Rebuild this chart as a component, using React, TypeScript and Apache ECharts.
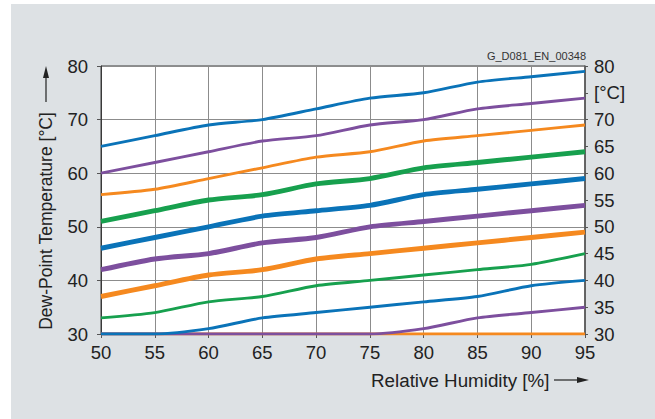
import React, { useEffect, useRef } from "react";
import * as echarts from "echarts";

const humidity = [50, 55, 60, 65, 70, 75, 80, 85, 90, 95];
const leftTicks = ["30", "40", "50", "60", "70", "80"];
const rightUnit = "[°C]";

// dew point curves, top to bottom
const blueTop = [65, 67, 69, 70, 72, 74, 75, 77, 78, 79];
const purpleTop = [60, 62, 64, 66, 67, 69, 70, 72, 73, 74];
const orangeTop = [56, 57, 59, 61, 63, 64, 66, 67, 68, 69];
const greenThick = [51, 53, 55, 56, 58, 59, 61, 62, 63, 64];
const blueThick = [46, 48, 50, 52, 53, 54, 56, 57, 58, 59];
const purpleThick = [42, 44, 45, 47, 48, 50, 51, 52, 53, 54];
const orangeThick = [37, 39, 41, 42, 44, 45, 46, 47, 48, 49];
const greenThin = [33, 34, 36, 37, 39, 40, 41, 42, 43, 45];
const blueLow = [30, 30, 31, 33, 34, 35, 36, 37, 39, 40];
const purpleLow = [30, 30, 30, 30, 30, 30, 31, 33, 34, 35];
const orangeLow = [30, 30, 30, 30, 30, 30, 30, 30, 30, 30];

const BLUE = "#0a73b8";
const PURPLE = "#7d4f9e";
const ORANGE = "#f5891f";
const GREEN = "#17a04e";
const FONT = "Liberation Sans, Arial, Helvetica, sans-serif";

export default function App() {
  const ref = useRef<HTMLDivElement>(null);
  useEffect(() => {
    if (!ref.current) return;
    const chart = echarts.init(ref.current, undefined, { renderer: "svg" });
    const mk = (vals: number[], color: string, width: number) => ({
      type: "line",
      data: humidity.map((h, i) => [h, vals[i]]),
      showSymbol: false,
      symbol: "none",
      smooth: 0.25,
      lineStyle: { color, width },
      itemStyle: { color },
      clip: true,
      z: 3,
    });
    const THIN = 2.9;
    const THICK = 4.9;
    chart.setOption({
      animation: false,
      backgroundColor: "#ffffff",
      textStyle: { fontFamily: FONT },
      graphic: [
        {
          type: "rect",
          z: -10,
          silent: true,
          shape: { x: 11, y: 4, width: 660, height: 430 },
          style: { fill: "#dde1e4" },
        },
        {
          type: "text",
          x: 586,
          y: 56,
          style: {
            text: "G_D081_EN_00348",
            fontSize: 11,
            fontFamily: FONT,
            fill: "#333",
            align: "right",
            verticalAlign: "middle",
          },
        },
        {
          type: "text",
          x: 46,
          y: 221,
          rotation: Math.PI / 2,
          style: {
            text: "Dew-Point Temperature [°C]",
            fontSize: 17.5,
            fontFamily: FONT,
            fill: "#222",
            align: "center",
            verticalAlign: "middle",
          },
        },
        {
          type: "line",
          shape: { x1: 46, y1: 102, x2: 46, y2: 74 },
          style: { stroke: "#222", lineWidth: 1.2 },
        },
        {
          type: "polygon",
          shape: { points: [[46, 66], [43, 78], [49, 78]] },
          style: { fill: "#222" },
        },
        {
          type: "text",
          x: 371,
          y: 380,
          style: {
            text: "Relative Humidity [%]",
            fontSize: 18.8,
            fontFamily: FONT,
            fill: "#222",
            align: "left",
            verticalAlign: "middle",
          },
        },
        {
          type: "line",
          shape: { x1: 554, y1: 380, x2: 580, y2: 380 },
          style: { stroke: "#222", lineWidth: 1.2 },
        },
        {
          type: "polygon",
          shape: { points: [[589, 380], [577, 377], [577, 383]] },
          style: { fill: "#222" },
        },
      ],
      grid: {
        left: 101,
        top: 66,
        right: 70,
        bottom: 85,
        show: true,
        backgroundColor: "#ffffff",
        borderColor: "#3a3a3a",
        borderWidth: 1,
        containLabel: false,
      },
      xAxis: {
        type: "value",
        min: 50,
        max: 95,
        interval: 5,
        axisLine: { show: true, lineStyle: { color: "#3a3a3a", width: 1 } },
        axisTick: { show: true, length: 4, inside: false, lineStyle: { color: "#555" } },
        axisLabel: { color: "#222", fontSize: 18.5, fontFamily: FONT, margin: 9 },
        splitLine: { show: true, lineStyle: { color: "#8c8c8c", width: 1 } },
      },
      yAxis: [
        {
          type: "value",
          position: "left",
          min: 30,
          max: 80,
          interval: 10,
          axisLine: { show: true, lineStyle: { color: "#3a3a3a", width: 1 } },
          axisTick: { show: true, length: 4, lineStyle: { color: "#555" } },
          axisLabel: {
            color: "#222",
            fontSize: 18.5,
            fontFamily: FONT,
            margin: 13,
            formatter: (v: number) => (leftTicks.includes(String(v)) ? String(v) : ""),
          },
          splitLine: { show: true, lineStyle: { color: "#8c8c8c", width: 1 } },
        },
        {
          type: "value",
          position: "right",
          min: 30,
          max: 80,
          interval: 5,
          axisLine: { show: true, lineStyle: { color: "#555", width: 1.5 } },
          axisTick: { show: true, length: 3, lineStyle: { color: "#555" } },
          axisLabel: {
            color: "#222",
            fontSize: 18.5,
            fontFamily: FONT,
            margin: 9,
            formatter: (v: number) => (v === 75 ? rightUnit : String(v)),
          },
          splitLine: { show: false },
        },
      ],
      series: [
        mk(orangeLow, ORANGE, THIN),
        mk(purpleLow, PURPLE, THIN),
        mk(blueLow, BLUE, THIN),
        mk(greenThin, GREEN, THIN),
        mk(orangeThick, ORANGE, THICK),
        mk(purpleThick, PURPLE, THICK),
        mk(blueThick, BLUE, THICK),
        mk(greenThick, GREEN, THICK),
        mk(orangeTop, ORANGE, THIN),
        mk(purpleTop, PURPLE, THIN),
        mk(blueTop, BLUE, THIN),
      ],
    });
    return () => chart.dispose();
  }, []);
  return (
    <div
      ref={ref}
      style={{ position: "fixed", left: 0, top: 0, width: 655, height: 419 }}
    />
  );
}
